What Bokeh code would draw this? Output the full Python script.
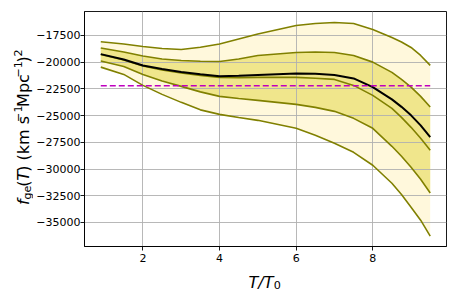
from bokeh.plotting import figure
from bokeh.models import Range1d, FixedTicker, Label
from bokeh.layouts import row, column
from bokeh.embed import file_html
from bokeh.resources import INLINE
import math

# ---------------- data ----------------
T = [0.9, 1.5, 2.0, 2.5, 3.0, 3.5, 4.0, 4.5, 5.0, 6.0, 6.5, 7.0, 7.5, 8.0, 8.5, 8.75, 9.0, 9.25, 9.5]
f_upper2 = [-18089, -18294, -18528, -18715, -18808, -18603, -18294, -17827, -17360, -16565, -16378,
            -16285, -16378, -16939, -17687, -18107, -18622, -19369, -20304]
f_upper1 = [-18668, -19042, -19416, -19696, -19837, -19911, -19930, -19696, -19369, -19089, -19042,
            -19089, -19369, -19995, -20958, -21612, -22332, -23201, -24201]
f_mean = [-19248, -19743, -20304, -20631, -20911, -21126, -21313, -21266, -21192, -21051, -21080,
          -21192, -21519, -22332, -23481, -24182, -24977, -25911, -27005]
f_median = [-19276, -19790, -20350, -20724, -21005, -21238, -21425, -21444, -21425, -21425, -21500,
            -21612, -22173, -23108, -24323, -25164, -26099, -27126, -28248]
f_lower1 = [-19883, -20397, -21145, -21752, -22266, -22780, -23201, -23407, -23575, -23949, -24229,
            -24603, -25257, -26192, -27874, -28809, -29837, -30958, -32238]
f_lower2 = [-20463, -21145, -22173, -23014, -23762, -24462, -24883, -25182, -25444, -26192, -26846,
            -27594, -28435, -29650, -31332, -32378, -33575, -34790, -36285]
f_ref = -22200

x_ticks = [2, 4, 6, 8]
y_ticks = [-35000, -32500, -30000, -27500, -25000, -22500, -20000, -17500]
y_tick_labels = ["\u221235000", "\u221232500", "\u221230000", "\u221227500",
                 "\u221225000", "\u221222500", "\u221220000", "\u221217500"]

# ---------------- geometry ----------------
TOTAL_W, TOTAL_H = 457, 292
LW = 33                # width of the y-label strip
MH = 266               # height of main figure
XH = TOTAL_H - MH      # height of the x-label strip
X0, X1 = 0.475, 9.925
Y0, Y1 = -37252, -15257
MW = TOTAL_W - LW
BL, BR, BT, BB = 50, 11, 11, 20

p = figure(width=MW, height=MH, output_backend="svg", toolbar_location=None,
           x_range=Range1d(X0, X1), y_range=Range1d(Y0, Y1),
           min_border_left=BL, min_border_right=BR, min_border_top=BT, min_border_bottom=BB)
p.background_fill_color = "white"
p.border_fill_color = "white"
p.outline_line_color = "black"
p.outline_line_width = 0.9
p.outline_line_alpha = 1

for ax in (p.xaxis, p.yaxis):
    ax.axis_line_color = "black"
    ax.axis_line_width = 0.9
    ax.major_tick_line_color = "black"
    ax.major_tick_line_width = 0.9
    ax.major_tick_out = 4
    ax.major_tick_in = 0
    ax.minor_tick_out = 0
    ax.minor_tick_in = 0
    ax.major_label_text_font = "DejaVu Sans"
    ax.major_label_text_font_size = "11px"
    ax.major_label_text_color = "black"
    ax.axis_label = None
p.xaxis.ticker = FixedTicker(ticks=x_ticks)
p.yaxis.ticker = FixedTicker(ticks=y_ticks)
p.xaxis.major_label_standoff = 3
p.yaxis.major_label_standoff = 0
p.yaxis.major_label_overrides = {float(t): l for t, l in zip(y_ticks, y_tick_labels)}

for g in (p.xgrid, p.ygrid):
    g.grid_line_color = "#b0b0b0"
    g.grid_line_width = 0.9

# bands (drawn below the grid)
r1 = p.varea(x=T, y1=f_lower2, y2=f_upper2, fill_color="#fff8dc")
r2 = p.varea(x=T, y1=f_lower1, y2=f_upper1, fill_color="#f0e68c")
r1.level = "image"
r2.level = "image"

olive = "#808000"
for ys in (f_upper2, f_upper1, f_median, f_lower1, f_lower2):
    p.line(T, ys, line_color=olive, line_width=1.6)
p.line(T, f_mean, line_color="black", line_width=2)
p.line([T[0], T[-1]], [f_ref, f_ref], line_color="#bf00bf", line_width=1.6, line_dash="6 3")


def strip(w, h, y_top):
    f = figure(width=w, height=h, output_backend="svg", toolbar_location=None,
               x_axis_type=None, y_axis_type=None,
               x_range=Range1d(0, w), y_range=Range1d(y_top + h, y_top),
               min_border=0, min_border_left=0, min_border_right=0,
               min_border_top=0, min_border_bottom=0)
    f.outline_line_color = None
    f.background_fill_color = "white"
    f.border_fill_color = "white"
    f.grid.visible = False
    return f

# ---------------- axis labels (mathtext-like pieces) ----------------
EM = {"(": 0.390, ")": 0.390, " ": 0.318, "k": 0.579, "m": 0.974, "s": 0.521, "M": 0.863,
      "p": 0.635, "c": 0.550, "g": 0.635, "e": 0.615, "\u2212": 0.838, "1": 0.636,
      "2": 0.636, "0": 0.636, "/": 0.337, "f": 0.352, "T": 0.611}

def tw(s, size):
    return sum(EM.get(ch, 0.6) for ch in s) * size

BIG, SMALL = 16, 11.2

ylab_fig = strip(LW, MH, 0)
ylab = [("f", BIG, "italic", 0), ("ge", SMALL, "normal", -3.2), ("(", BIG, "normal", 0),
        ("T", BIG, "italic", 0), (") (km s", BIG, "normal", 0), ("\u22121", SMALL, "normal", 6.3),
        ("Mpc", BIG, "normal", 0), ("\u22121", SMALL, "normal", 6.3), (")", BIG, "normal", 0),
        ("2", SMALL, "normal", 6.3)]
pos = 219
base_x = 23.4
for txt, sz, st, sh in ylab:
    ylab_fig.add_layout(Label(x=base_x - sh, y=pos, text=txt, angle=math.pi / 2,
                              text_font="DejaVu Sans", text_font_size=f"{sz}px",
                              text_font_style=st, text_align="left",
                              text_baseline="alphabetic", text_color="black"))
    pos -= tw(txt, sz) + 0.5

xlab_fig = strip(TOTAL_W, XH, MH)
xlab = [("T/T", BIG, "italic", 0), ("0", SMALL, "normal", -2.6)]
pos = 248
base_y = 281.5
for txt, sz, st, sh in xlab:
    xlab_fig.add_layout(Label(x=pos, y=base_y - sh, text=txt,
                              text_font="DejaVu Sans", text_font_size=f"{sz}px",
                              text_font_style=st, text_align="left",
                              text_baseline="alphabetic", text_color="black"))
    pos += tw(txt, sz) + 0.3

layout = column(row(ylab_fig, p, spacing=0), xlab_fig, spacing=0)
open("out.html", "w").write(file_html(layout, INLINE))
